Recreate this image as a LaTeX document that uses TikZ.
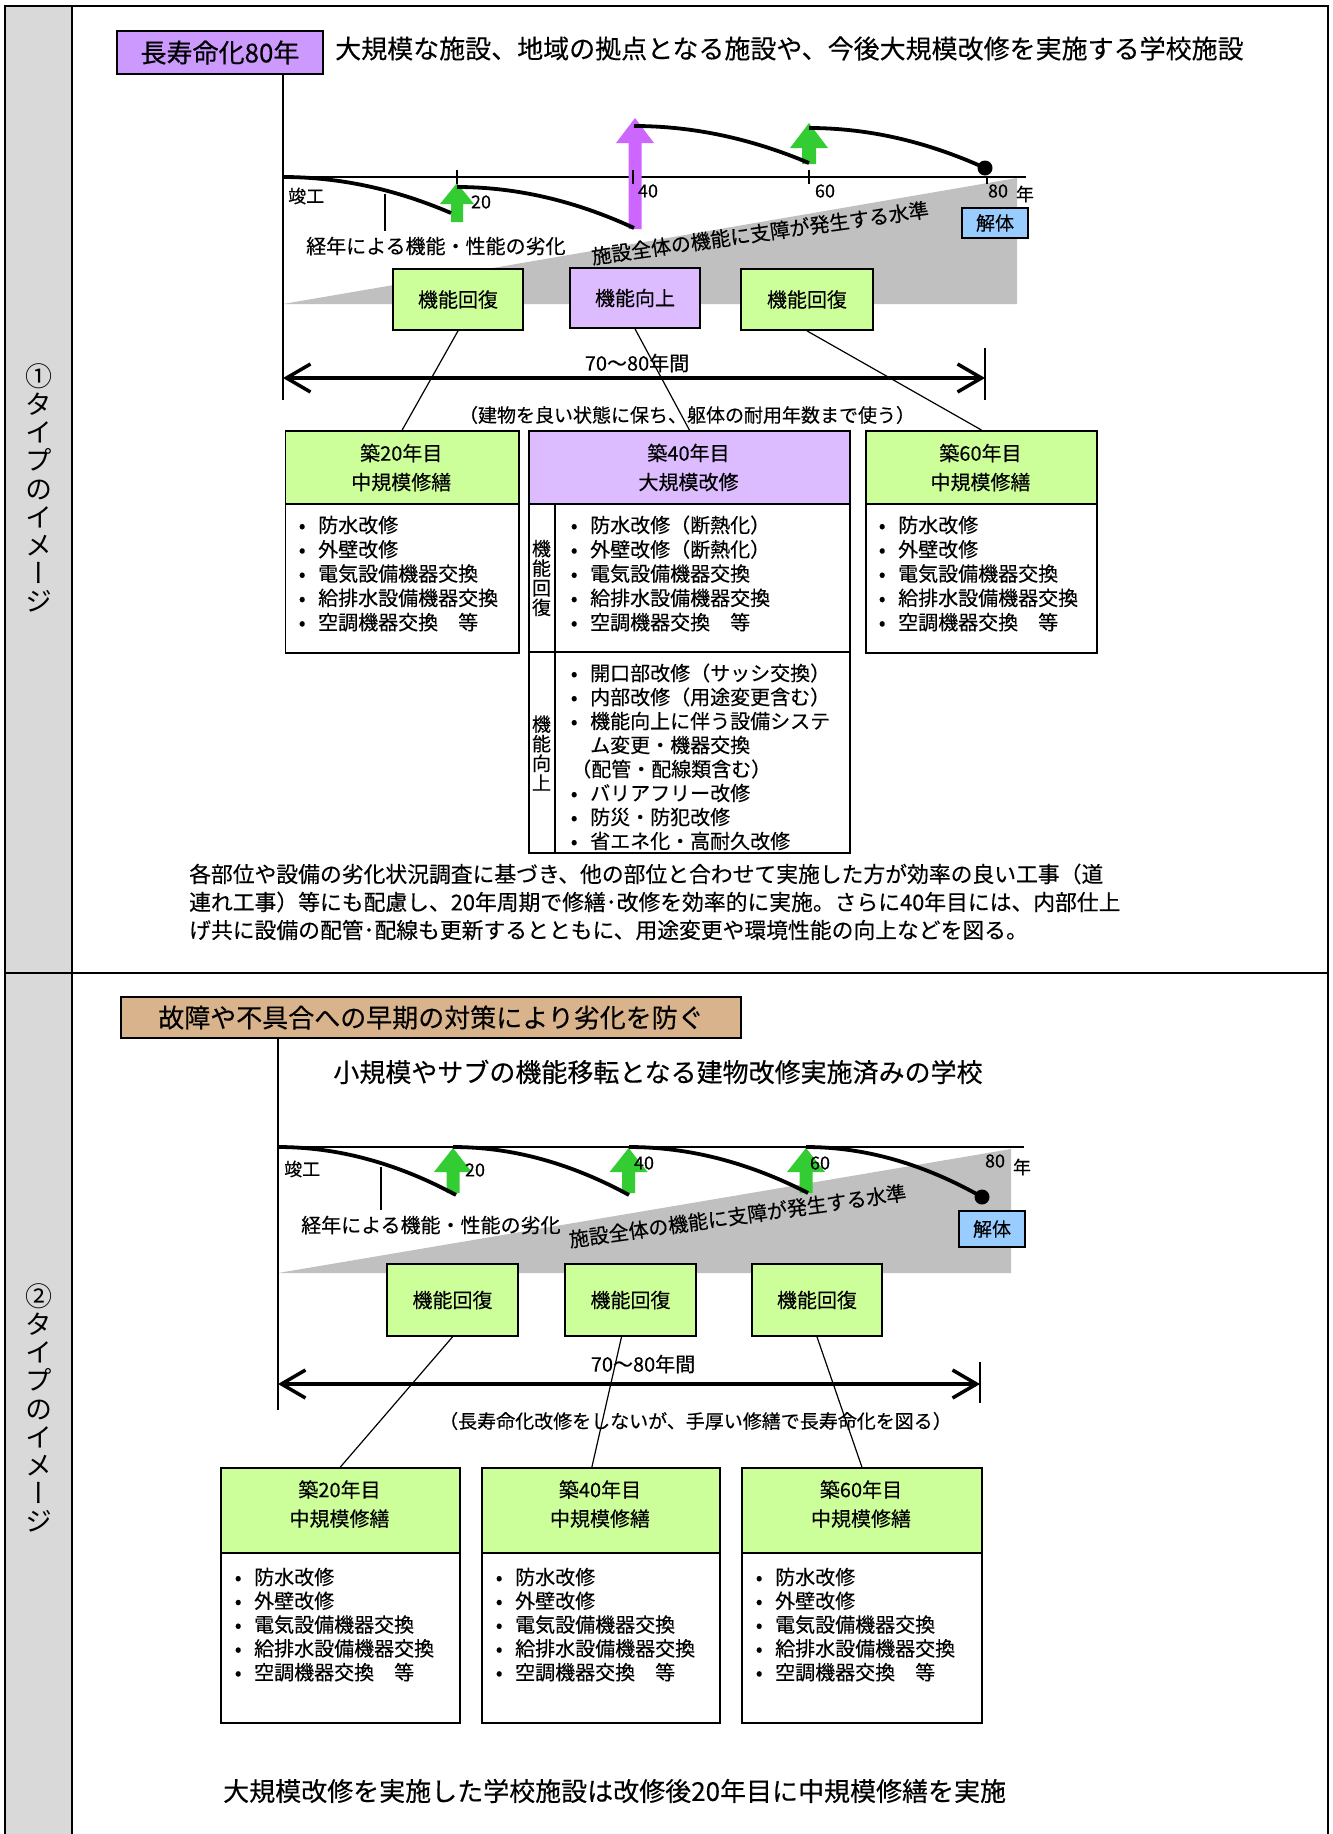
\documentclass[tikz,border=0pt]{standalone}
\usepackage{fontspec}
\setmainfont{Noto Sans CJK JP}[FakeBold=0.3]
\newfontfamily\vertjp[RawFeature=+vert]{Noto Sans CJK JP}
\usetikzlibrary{arrows.meta}
\definecolor{grn}{HTML}{CCFF99}
\definecolor{lav}{HTML}{DDBBFF}
\definecolor{pur}{HTML}{CC99FF}
\definecolor{parr}{HTML}{CC66FF}
\definecolor{garr}{HTML}{33CC33}
\definecolor{tanc}{HTML}{D9B38C}
\definecolor{blu}{HTML}{99CCFF}
\definecolor{gryc}{HTML}{C0C0C0}
\definecolor{colg}{HTML}{D9D9D9}
% block up-arrow: color, cx, ybottom, yheadbase, ytip, shaft half width, head half width
\newcommand\blockup[7]{\fill[#1] ({#2-#6},#3) -- ({#2-#6},#4) -- ({#2-#7},#4) -- (#2,#5) -- ({#2+#7},#4) -- ({#2+#6},#4) -- ({#2+#6},#3) -- cycle;}
% decay curve (parabola with vertex at start)
\newcommand\decay[4]{\draw[curve] (#1,#2) .. controls ({#1+(#3-#1)/3},#2) and ({#1+2*(#3-#1)/3},{#2+(#4-#2)/3}) .. (#3,#4);}
% bullet list: prefix, bullet centre x, first y, step, items
\newcommand\mybullets[5]{\foreach \itm [count=\i] in {#5} {\node[lst] (#1\i) at ({#2-16},{#3+(\i-1)*#4}) {\makebox[32pt][c]{•}\itm};}}
\begin{document}
\begin{tikzpicture}[x=1pt,y=-1pt,
  txt/.style={inner sep=0pt, font=\fontsize{20}{24}\selectfont},
  big/.style={inner sep=0pt, font=\fontsize{26}{30}\selectfont},
  axl/.style={inner sep=0pt, font=\fontsize{18}{22}\selectfont},
  lst/.style={inner sep=0pt, anchor=west, font=\fontsize{20}{24}\selectfont},
  para/.style={inner sep=0pt, anchor=west, font=\fontsize{21.8}{26}\selectfont},
  boxg/.style={draw, line width=1.8pt, fill=grn, inner sep=0pt, font=\fontsize{20}{24}\selectfont},
  boxl/.style={boxg, fill=lav},
  boxb/.style={draw, line width=1.8pt, fill=blu, inner sep=0pt, font=\fontsize{19}{22}\selectfont},
  outl/.style={line width=2pt},
  curve/.style={line width=3.8pt},
  haxis/.style={line width=2.4pt},
  vax/.style={line width=1.3pt},
  tick/.style={line width=1.2pt},
  conn/.style={line width=1.2pt},
  dbl/.style={line width=3.5pt, {Straight Barb[length=24pt,width=28pt]}-{Straight Barb[length=24pt,width=28pt]}},
  panel/.style={draw, line width=1.8pt, inner sep=0pt, anchor=north west},
  hdtxt/.style={inner sep=0pt, align=center, font=\fontsize{20}{29}\selectfont},
  vtxt/.style={inner sep=0pt, align=center, font=\fontsize{19}{19.6}\selectfont},
  sidelab/.style={inner sep=0pt, align=center, font={\vertjp\fontsize{27}{28.2}\selectfont}},
]
\useasboundingbox (0,0) rectangle (1333,1834);
% ---------- frame ----------
\fill[colg] (5,6) rectangle (72,1834);
\draw[outl] (5,1834) -- (5,6) -- (1328,6) -- (1328,1834);
\draw[outl] (72,6) -- (72,1834);
\draw[outl] (5,973) -- (1328,973);
\node[sidelab] (lab1) at (38.5,488) {①\\タ\\イ\\プ\\の\\イ\\メ\\ー\\ジ};
\node[sidelab] (lab2) at (38.5,1408) {②\\タ\\イ\\プ\\の\\イ\\メ\\ー\\ジ};

% ================= SECTION 1 =================
\node[big, draw, line width=1.8pt, fill=pur, minimum width=206pt, minimum height=43pt] (h1) at (220,52.5) {長寿命化80年};
\node[big, anchor=west] (t1) at (335,48.5) {大規模な施設、地域の拠点となる施設や、今後大規模改修を実施する学校施設};
\fill[gryc] (283,304) -- (1017,178) -- (1017,304) -- cycle;
\draw[vax] (283,74) -- (283,400);
\draw[haxis] (283,177) -- (1026,177);
\blockup{garr}{457}{222}{204}{183}{6}{17}
\blockup{parr}{635}{229}{143}{118}{6.5}{19}
\blockup{garr}{809}{164}{148}{123}{7}{19}
\foreach \x in {457,633,809} \draw[tick] (\x,170) -- (\x,184);
\draw[tick] (987,177) -- (987,184);
\decay{283}{177}{451}{213}
\decay{457}{187}{634}{228}
\decay{634}{126}{809}{163}
\decay{809}{128}{985}{168}
\fill (985,168) circle (7.5pt);
\node[axl, anchor=west] (sk1) at (288,196) {竣工};
\node[axl] (n20a) at (481,202) {20};
\node[axl] (n40a) at (648,191) {40};
\node[axl] (n60a) at (825,191) {60};
\node[axl] (n80a) at (998,191) {80};
\node[axl] (ny1) at (1025,194) {年};
\draw[tick] (385,194) -- (385,231);
\node[txt, anchor=west] (ke1) at (306,246) {経年による機能・性能の劣化};
\node[txt, rotate=8] (lv1) at (760,233) {施設全体の機能に支障が発生する水準};
\node[boxb, minimum width=66pt, minimum height=30pt] (kt1) at (995,223) {解体};
\node[boxg, minimum width=130pt, minimum height=61pt] (k1) at (458,299.5) {機能回復};
\node[boxl, minimum width=130pt, minimum height=60pt] (k2) at (635,298) {機能向上};
\node[boxg, minimum width=132pt, minimum height=61pt] (k3) at (807,299.5) {機能回復};
\node[txt] (dur1) at (637,363) {70～80年間};
\coordinate (d1L) at (283,378);
\coordinate (d1R) at (985,378);
\draw[dbl] (d1L) -- (d1R);
\draw[vax] (985,348) -- (985,400);
\node[txt, font=\fontsize{19}{22}\selectfont] (nt1) at (687,415) {（建物を良い状態に保ち、躯体の耐用年数まで使う）};
% panel 20
\node[panel, minimum width=233.5pt, minimum height=222pt] (b20) at (284.5,430) {};
\node[panel, fill=grn, minimum width=233.5pt, minimum height=73pt] (b20h) at (284.5,430) {};
\node[hdtxt] (b20t) at (401.25,467.5) {築20年目\\中規模修繕};
\mybullets{b20i}{302}{525}{24.3}{防水改修,外壁改修,電気設備機器交換,給排水設備機器交換,空調機器交換　等}
% panel 40
\node[panel, minimum width=321pt, minimum height=422pt] (b40) at (528,430) {};
\node[panel, fill=lav, minimum width=321pt, minimum height=73pt] (b40h) at (528,430) {};
\node[hdtxt] (b40t) at (688.5,467.5) {築40年目\\大規模改修};
\draw[line width=1.8pt] (528,652) -- (849,652);
\draw[line width=1.8pt] (555,503) -- (555,852);
\node[vtxt] (v1) at (541.5,578) {機\\能\\回\\復};
\node[vtxt] (v2) at (541.5,753) {機\\能\\向\\上};
\mybullets{b40a}{574}{525}{24.3}{防水改修（断熱化）,外壁改修（断熱化）,電気設備機器交換,給排水設備機器交換,空調機器交換　等}
\mybullets{b40b}{574}{673}{24}{開口部改修（サッシ交換）,内部改修（用途変更含む）,機能向上に伴う設備システ}
\node[lst] (b40c1) at (590,745) {ム変更・機器交換};
\node[lst] (b40c2) at (571,769) {（配管・配線類含む）};
\mybullets{b40d}{574}{793}{24}{バリアフリー改修,防災・防犯改修,省エネ化・高耐久改修}
% panel 60
\node[panel, minimum width=231pt, minimum height=222pt] (b60) at (865,430) {};
\node[panel, fill=grn, minimum width=231pt, minimum height=73pt] (b60h) at (865,430) {};
\node[hdtxt] (b60t) at (980.5,467.5) {築60年目\\中規模修繕};
\mybullets{b60i}{882}{525}{24.3}{防水改修,外壁改修,電気設備機器交換,給排水設備機器交換,空調機器交換　等}
% connectors
\draw[conn] (k1.south) -- (b20.north);
\draw[conn] (k2.south) -- (b40.north);
\draw[conn] (k3.south) -- (b60.north);
% paragraph
\node[para] (p1) at (189,874) {各部位や設備の劣化状況調査に基づき、他の部位と合わせて実施した方が効率の良い工事（道};
\node[para] (p2) at (189,902) {連れ工事）等にも配慮し、20年周期で修繕･改修を効率的に実施。さらに40年目には、内部仕上};
\node[para] (p3) at (189,930) {げ共に設備の配管･配線も更新するとともに、用途変更や環境性能の向上などを図る。};

% ================= SECTION 2 =================
\node[big, draw, line width=1.8pt, fill=tanc, minimum width=620pt, minimum height=41pt] (h2) at (431,1017.5) {故障や不具合への早期の対策により劣化を防ぐ};
\node[big] (t2) at (658,1072) {小規模やサブの機能移転となる建物改修実施済みの学校};
\fill[gryc] (278,1273) -- (1011,1149) -- (1011,1273) -- cycle;
\draw[vax] (278,1038) -- (278,1410);
\draw[haxis] (278,1147) -- (1024,1147);
\blockup{garr}{453}{1193}{1172}{1148}{6.5}{19}
\blockup{garr}{628.6}{1193}{1172}{1148}{6.5}{19}
\blockup{garr}{806}{1193}{1172}{1148}{6.5}{19}
\decay{278}{1147}{456}{1195}
\decay{453}{1147}{629}{1195}
\decay{629}{1147}{808}{1193}
\decay{806}{1147}{982}{1197}
\fill (982,1197) circle (7.5pt);
\node[axl, anchor=west] (sk2) at (284,1169) {竣工};
\node[axl] (n20b) at (475,1170) {20};
\node[axl] (n40b) at (644,1163) {40};
\node[axl] (n60b) at (820,1163) {60};
\node[axl] (n80b) at (995,1161) {80};
\node[axl] (ny2) at (1022,1167) {年};
\draw[tick] (381,1167) -- (381,1210);
\node[txt, anchor=west] (ke2) at (301,1225) {経年による機能・性能の劣化};
\node[txt, rotate=8] (lv2) at (737.5,1216) {施設全体の機能に支障が発生する水準};
\node[boxb, minimum width=66pt, minimum height=36pt] (kt2) at (992,1229) {解体};
\node[boxg, minimum width=131pt, minimum height=72pt] (m1) at (452.5,1300) {機能回復};
\node[boxg, minimum width=131pt, minimum height=72pt] (m2) at (630.5,1300) {機能回復};
\node[boxg, minimum width=130pt, minimum height=72pt] (m3) at (817,1300) {機能回復};
\node[txt] (dur2) at (643,1364) {70～80年間};
\coordinate (d2L) at (278,1384);
\coordinate (d2R) at (980,1384);
\draw[dbl] (d2L) -- (d2R);
\draw[vax] (980,1362) -- (980,1403);
\node[txt, font=\fontsize{19}{22}\selectfont] (nt2) at (695.5,1421) {（長寿命化改修をしないが、手厚い修繕で長寿命化を図る）};
% panels
\node[panel, minimum width=239pt, minimum height=255pt] (pA) at (220,1467) {};
\node[panel, fill=grn, minimum width=239pt, minimum height=85pt] (pAh) at (220,1467) {};
\node[hdtxt] (pAt) at (339.5,1504) {築20年目\\中規模修繕};
\mybullets{pAi}{238}{1577}{23.8}{防水改修,外壁改修,電気設備機器交換,給排水設備機器交換,空調機器交換　等}
\node[panel, minimum width=238pt, minimum height=255pt] (pB) at (481,1467) {};
\node[panel, fill=grn, minimum width=238pt, minimum height=85pt] (pBh) at (481,1467) {};
\node[hdtxt] (pBt) at (600,1504) {築40年目\\中規模修繕};
\mybullets{pBi}{499}{1577}{23.8}{防水改修,外壁改修,電気設備機器交換,給排水設備機器交換,空調機器交換　等}
\node[panel, minimum width=240pt, minimum height=255pt] (pC) at (741,1467) {};
\node[panel, fill=grn, minimum width=240pt, minimum height=85pt] (pCh) at (741,1467) {};
\node[hdtxt] (pCt) at (861,1504) {築60年目\\中規模修繕};
\mybullets{pCi}{759}{1577}{23.8}{防水改修,外壁改修,電気設備機器交換,給排水設備機器交換,空調機器交換　等}
\draw[conn] (m1.south) -- (pA.north);
\draw[conn] ([xshift=-9pt]m2.south) -- ([xshift=-9pt]pB.north);
\draw[conn] (m3.south) -- (pC.north);
\node[big, anchor=west] (bt) at (223,1791) {大規模改修を実施した学校施設は改修後20年目に中規模修繕を実施};
\end{tikzpicture}
\end{document}
